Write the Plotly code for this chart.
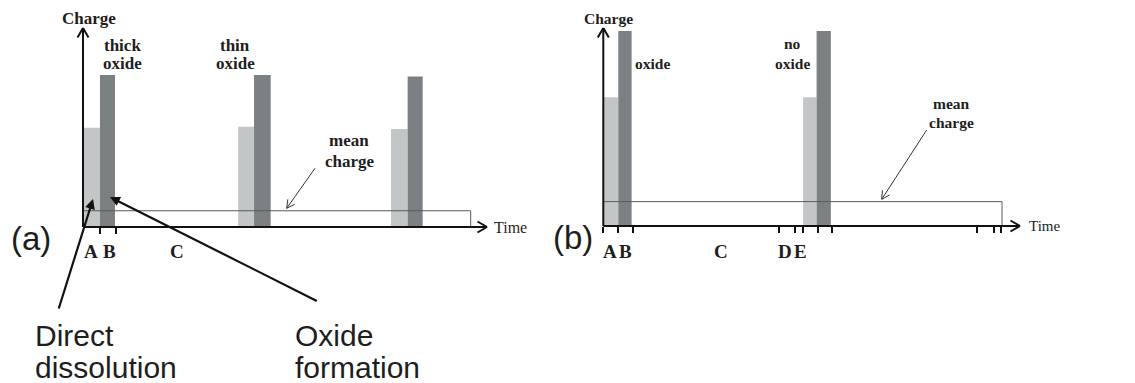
import math
import plotly.graph_objects as go

W, H = 1135, 383

# ---------------- Data: panel (a) ----------------
a_light_start = [0.0, 9.70, 19.25]
a_light_end = [1.06, 10.69, 20.29]
a_light_charge = [6.53, 6.60, 6.45]
a_dark_start = [1.06, 10.69, 20.29]
a_dark_end = [2.00, 11.73, 21.23]
a_dark_charge = [10.0, 10.0, 9.91]
a_mean_charge = 1.07
a_mean_end = 24.23
a_time_max = 25.25
a_charge_max = 13.1
a_ticks = [1.06, 2.05]
a_labels = ["A", "B", "C"]
a_label_time = [0.47, 1.63, 5.88]

# ---------------- Data: panel (b) ----------------
b_light_start = [0.0, 13.33]
b_light_end = [1.0, 14.23]
b_light_charge = [6.6, 6.6]
b_dark_start = [1.0, 14.23]
b_dark_end = [1.89, 15.18]
b_dark_charge = [10.0, 10.0]
b_mean_charge = 1.25
b_mean_end = 26.6
b_time_max = 27.8
b_charge_max = 10.15
b_ticks = [0.0, 1.0, 2.0, 11.73, 12.78, 13.33, 14.29, 15.23, 24.96, 26.05, 26.56]
b_labels = ["A", "B", "C", "D", "E"]
b_label_time = [0.47, 1.45, 7.87, 12.15, 13.15]

LIGHT = "#c3c6c6"
DARK = "#7b8183"
AXIS = "#111111"
TEXT = "#1e1e1e"
SERIF = "Liberation Serif"
SANS = "Liberation Sans"

# panel pixel frames (layout)
PA = dict(left=83, right=487, bottom=227, top=28)
PB = dict(left=603.3, right=1020, bottom=226, top=28)


def px(x):
    return x / W


def py(y):
    return 1 - y / H


def dom(p):
    return [px(p["left"]), px(p["right"])], [py(p["bottom"]), py(p["top"])]


fig = go.Figure()


def add_panel(xa, ya, ls, le, lc, ds, de, dc, mean_c, mean_end):
    fig.add_trace(go.Bar(
        x=[(s + e) / 2 for s, e in zip(ls, le)], y=lc,
        width=[e - s for s, e in zip(ls, le)],
        marker=dict(color=LIGHT, line=dict(width=0)),
        xaxis=xa, yaxis=ya, showlegend=False, hoverinfo="skip"))
    fig.add_trace(go.Bar(
        x=[(s + e) / 2 for s, e in zip(ds, de)], y=dc,
        width=[e - s for s, e in zip(ds, de)],
        marker=dict(color=DARK, line=dict(width=0)),
        xaxis=xa, yaxis=ya, showlegend=False, hoverinfo="skip"))
    fig.add_trace(go.Scatter(
        x=[0, mean_end, mean_end, 0, 0], y=[0, 0, mean_c, mean_c, 0],
        mode="lines", line=dict(color="#5a5a5a", width=1),
        xaxis=xa, yaxis=ya, showlegend=False, hoverinfo="skip"))


add_panel("x", "y", a_light_start, a_light_end, a_light_charge,
          a_dark_start, a_dark_end, a_dark_charge, a_mean_charge, a_mean_end)
add_panel("x2", "y2", b_light_start, b_light_end, b_light_charge,
          b_dark_start, b_dark_end, b_dark_charge, b_mean_charge, b_mean_end)


def line(x0, y0, x1, y1, color, width):
    return dict(type="line", xref="paper", yref="paper",
                x0=px(x0), y0=py(y0), x1=px(x1), y1=py(y1),
                line=dict(color=color, width=width), layer="above")


def open_arrow(tail, tip, color, width, head_len, half_angle):
    (x0, y0), (x1, y1) = tail, tip
    ang = math.atan2(y0 - y1, x0 - x1)
    out = [line(x0, y0, x1, y1, color, width)]
    for s in (-1, 1):
        a = ang + s * math.radians(half_angle)
        out.append(line(x1, y1, x1 + head_len * math.cos(a),
                        y1 + head_len * math.sin(a), color, width))
    return out


shapes = []
for p in (PA, PB):
    shapes += open_arrow((p["left"], p["bottom"]), (p["left"], p["top"]), AXIS, 2, 11, 30)
    shapes += open_arrow((p["left"], p["bottom"]), (p["right"], p["bottom"]), AXIS, 2, 11, 30)

# mean charge pointers
shapes += open_arrow((315, 168.3), (286.7, 208.3), "#333333", 1, 9, 28)
shapes += open_arrow((926.7, 130), (881.7, 199.3), "#333333", 1, 9, 28)

annotations = []


def txt(x, y, s, size, family=SERIF, bold=True, xanchor="center", color=TEXT):
    annotations.append(dict(
        x=px(x), y=py(y), xref="paper", yref="paper", text=f"<b>{s}</b>" if bold else s,
        showarrow=False, xanchor=xanchor, yanchor="middle",
        font=dict(family=family, size=size, color=color)))


# panel (a) texts
txt(89, 18, "Charge", 17)
txt(122, 45, "thick", 17)
txt(122, 64, "oxide", 17)
txt(235, 45, "thin", 17)
txt(235, 64, "oxide", 17)
txt(349, 141, "mean", 17)
txt(350, 161, "charge", 17)
txt(492, 227, "Time", 16, bold=False, xanchor="left")
for lab, t in zip(a_labels, a_label_time):
    annotations.append(dict(x=t, y=py(252), xref="x", yref="paper", text=f"<b>{lab}</b>",
                            showarrow=False, xanchor="center", yanchor="middle",
                            font=dict(family=SERIF, size=19, color=TEXT)))

# panel (b) texts
txt(608, 18, "Charge", 15.5)
txt(652.5, 63, "oxide", 15.5)
txt(792, 43, "no", 15.5)
txt(792, 63, "oxide", 15.5)
txt(951, 103, "mean", 15.5)
txt(951, 123, "charge", 15.5)
txt(1027, 226, "Time", 15, bold=False, xanchor="left")
for lab, t in zip(b_labels, b_label_time):
    annotations.append(dict(x=t, y=py(251.7), xref="x2", yref="paper", text=f"<b>{lab}</b>",
                            showarrow=False, xanchor="center", yanchor="middle",
                            font=dict(family=SERIF, size=19, color=TEXT)))

# big sans labels
txt(31, 238, "(a)", 33, family=SANS, bold=False)
txt(572.5, 237, "(b)", 33, family=SANS, bold=False)
txt(33, 335, "Direct", 30, family=SANS, bold=False, xanchor="left")
txt(33, 367, "dissolution", 30, family=SANS, bold=False, xanchor="left")
txt(293, 335, "Oxide", 30, family=SANS, bold=False, xanchor="left")
txt(293, 367, "formation", 30, family=SANS, bold=False, xanchor="left")

# pointer arrows with filled heads
for head, tail in (((93, 199), (58.3, 310)), ((110, 197), (318.3, 301.7))):
    annotations.append(dict(
        x=px(head[0]), y=py(head[1]), xref="paper", yref="paper", text="",
        showarrow=True, axref="pixel", ayref="pixel",
        ax=tail[0] - head[0], ay=tail[1] - head[1],
        arrowhead=2, arrowsize=0.9, arrowwidth=2.2, arrowcolor="#111111",
        standoff=0, startstandoff=0))

xa_dom, ya_dom = dom(PA)
xb_dom, yb_dom = dom(PB)

common_x = dict(showgrid=False, zeroline=False, showline=False, ticks="outside",
                ticklen=6, tickwidth=1.5, tickcolor=AXIS, showticklabels=False,
                fixedrange=True)
common_y = dict(showgrid=False, zeroline=False, showline=False, ticks="",
                showticklabels=False, fixedrange=True)

fig.update_layout(
    width=W, height=H, autosize=False,
    margin=dict(l=0, r=0, t=0, b=0),
    paper_bgcolor="white", plot_bgcolor="white",
    barmode="overlay",
    xaxis=dict(domain=xa_dom, range=[0, a_time_max], tickvals=a_ticks, anchor="y", **common_x),
    yaxis=dict(domain=ya_dom, range=[0, a_charge_max], anchor="x", **common_y),
    xaxis2=dict(domain=xb_dom, range=[0, b_time_max], tickvals=b_ticks, anchor="y2", **common_x),
    yaxis2=dict(domain=yb_dom, range=[0, b_charge_max], anchor="x2", **common_y),
    shapes=shapes,
    annotations=annotations,
)

fig.write_html("out.html")
